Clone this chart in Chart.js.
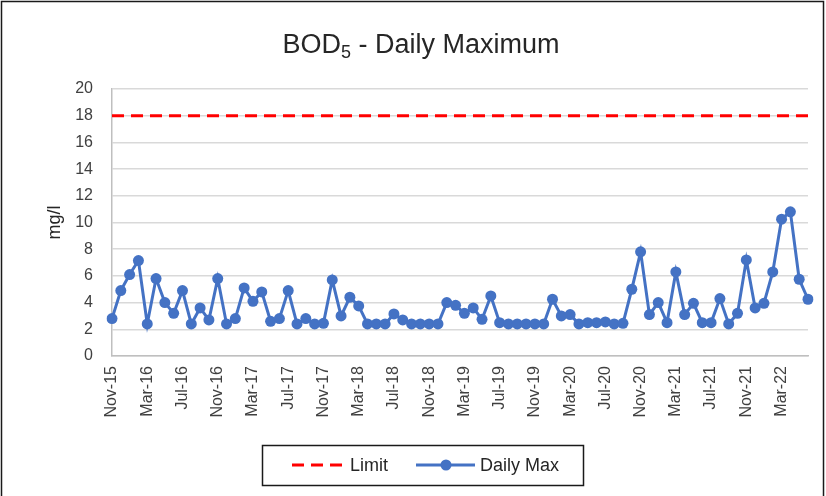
<!DOCTYPE html>
<html>
<head>
<meta charset="utf-8">
<title>BOD5 - Daily Maximum</title>
<script src="https://cdn.jsdelivr.net/npm/chart.js@4.4.1/dist/chart.umd.min.js"></script>
<style>
  html, body { margin: 0; padding: 0; background: #fff; }
  #chart { display: block; }
</style>
</head>
<body>
<canvas id="chart" width="826" height="496"></canvas>
<script>
// monthly samples, Nov-15 .. Jun-22
const months = [
  'Nov-15', 'Dec-15',
  'Jan-16', 'Feb-16', 'Mar-16', 'Apr-16', 'May-16', 'Jun-16', 'Jul-16', 'Aug-16', 'Sep-16', 'Oct-16', 'Nov-16', 'Dec-16',
  'Jan-17', 'Feb-17', 'Mar-17', 'Apr-17', 'May-17', 'Jun-17', 'Jul-17', 'Aug-17', 'Sep-17', 'Oct-17', 'Nov-17', 'Dec-17',
  'Jan-18', 'Feb-18', 'Mar-18', 'Apr-18', 'May-18', 'Jun-18', 'Jul-18', 'Aug-18', 'Sep-18', 'Oct-18', 'Nov-18', 'Dec-18',
  'Jan-19', 'Feb-19', 'Mar-19', 'Apr-19', 'May-19', 'Jun-19', 'Jul-19', 'Aug-19', 'Sep-19', 'Oct-19', 'Nov-19', 'Dec-19',
  'Jan-20', 'Feb-20', 'Mar-20', 'Apr-20', 'May-20', 'Jun-20', 'Jul-20', 'Aug-20', 'Sep-20', 'Oct-20', 'Nov-20', 'Dec-20',
  'Jan-21', 'Feb-21', 'Mar-21', 'Apr-21', 'May-21', 'Jun-21', 'Jul-21', 'Aug-21', 'Sep-21', 'Oct-21', 'Nov-21', 'Dec-21',
  'Jan-22', 'Feb-22', 'Mar-22', 'Apr-22', 'May-22', 'Jun-22'
];

const dailyMax = [
  2.8, 4.9,
  6.1, 7.15, 2.4, 5.8, 4.0, 3.2, 4.9, 2.4, 3.6, 2.7, 5.8, 2.4,
  2.8, 5.1, 4.1, 4.8, 2.6, 2.8, 4.9, 2.4, 2.8, 2.4, 2.45, 5.7,
  3.0, 4.4, 3.75, 2.4, 2.4, 2.4, 3.15, 2.7, 2.4, 2.4, 2.4, 2.4,
  4.0, 3.8, 3.2, 3.6, 2.75, 4.5, 2.5, 2.4, 2.4, 2.4, 2.4, 2.4,
  4.25, 3.0, 3.1, 2.4, 2.5, 2.5, 2.55, 2.4, 2.45, 5.0, 7.8, 3.1,
  4.0, 2.5, 6.3, 3.1, 3.95, 2.5, 2.5, 4.3, 2.4, 3.2, 7.2, 3.6,
  3.95, 6.3, 10.25, 10.8, 5.75, 4.25
];

const limitValue = 18;
const yTicks = [0, 2, 4, 6, 8, 10, 12, 14, 16, 18, 20];

const FONT = "'Liberation Sans', Arial, sans-serif";
const BLUE = '#4472C4';
const RED = '#FF0000';

// frame, title with subscript and boxed legend
const decorPlugin = {
  id: 'decor',
  beforeDraw(chart) {
    const ctx = chart.ctx;
    ctx.save();
    ctx.fillStyle = '#fff';
    ctx.fillRect(0, 0, chart.width, chart.height);
    ctx.restore();
  },
  afterDraw(chart) {
    const ctx = chart.ctx;
    ctx.save();

    ctx.strokeStyle = '#1a1a1a';
    ctx.lineWidth = 1.5;
    ctx.strokeRect(1.5, 1.5, 822, 540);

    // title
    const big = `27px ${FONT}`;
    const small = `18px ${FONT}`;
    ctx.fillStyle = '#262626';
    ctx.textBaseline = 'alphabetic';
    ctx.font = big;
    const w1 = ctx.measureText('BOD').width;
    const w3 = ctx.measureText(' - Daily Maximum').width;
    ctx.font = small;
    const w2 = ctx.measureText('5').width;
    let x = 421 - (w1 + w2 + w3) / 2;
    const base = 53;
    ctx.font = big;
    ctx.textAlign = 'left';
    ctx.fillText('BOD', x, base);
    x += w1;
    ctx.font = small;
    ctx.fillText('5', x, base + 5);
    x += w2;
    ctx.font = big;
    ctx.fillText(' - Daily Maximum', x, base);

    // legend
    ctx.strokeStyle = '#1a1a1a';
    ctx.lineWidth = 1.5;
    ctx.strokeRect(262.5, 445.5, 321, 40);
    const ly = 465;
    ctx.strokeStyle = RED;
    ctx.lineWidth = 3;
    ctx.setLineDash([12, 7]);
    ctx.beginPath();
    ctx.moveTo(292, ly);
    ctx.lineTo(348, ly);
    ctx.stroke();
    ctx.setLineDash([]);
    ctx.strokeStyle = BLUE;
    ctx.beginPath();
    ctx.moveTo(416, ly);
    ctx.lineTo(475, ly);
    ctx.stroke();
    ctx.fillStyle = BLUE;
    ctx.beginPath();
    ctx.arc(446, ly, 5.5, 0, Math.PI * 2);
    ctx.fill();
    ctx.fillStyle = '#262626';
    ctx.font = `18px ${FONT}`;
    ctx.textBaseline = 'middle';
    ctx.fillText('Limit', 350, ly + 1);
    ctx.fillText('Daily Max', 480, ly + 1);

    ctx.restore();
  }
};

new Chart(document.getElementById('chart'), {
  type: 'line',
  data: {
    labels: months,
    datasets: [
      {
        label: 'Limit',
        data: months.map(() => limitValue),
        borderColor: RED,
        borderWidth: 3,
        borderDash: [12, 7],
        pointRadius: 0,
        fill: false,
      },
      {
        label: 'Daily Max',
        data: dailyMax,
        borderColor: BLUE,
        backgroundColor: BLUE,
        borderWidth: 3,
        pointRadius: 5.5,
        pointBorderWidth: 0,
        tension: 0,
        fill: false,
      },
    ],
  },
  options: {
    responsive: false,
    animation: false,
    layout: { padding: { top: 89, right: 18, bottom: 0, left: 0 } },
    plugins: {
      legend: { display: false },
      title: { display: false },
      tooltip: { enabled: false },
    },
    scales: {
      x: {
        offset: false,
        grid: { display: false, drawTicks: false },
        border: { display: true, color: '#bfbfbf', width: 1.5 },
        ticks: {
          autoSkip: false,
          minRotation: 90,
          maxRotation: 90,
          padding: 10,
          color: '#404040',
          font: { family: FONT, size: 16 },
          callback: (v, i) => (i % 4 === 0 ? months[i] : ''),
        },
        afterFit: (s) => {
          s.height = 496 - 356;
          s.paddingLeft = 0;
          s.paddingRight = 0;
        },
      },
      y: {
        min: yTicks[0],
        max: yTicks[yTicks.length - 1],
        grid: { color: '#d9d9d9', lineWidth: 1.5, drawTicks: false },
        border: { display: true, color: '#bfbfbf', width: 1.5 },
        ticks: {
          stepSize: yTicks[1] - yTicks[0],
          padding: 19,
          color: '#404040',
          font: { family: FONT, size: 16 },
        },
        title: {
          display: true,
          text: 'mg/l',
          color: '#262626',
          padding: { top: 44 },
          font: { family: FONT, size: 18 },
        },
        afterFit: (s) => { s.width = 112; },
      },
    },
  },
  plugins: [decorPlugin],
});
</script>
</body>
</html>
